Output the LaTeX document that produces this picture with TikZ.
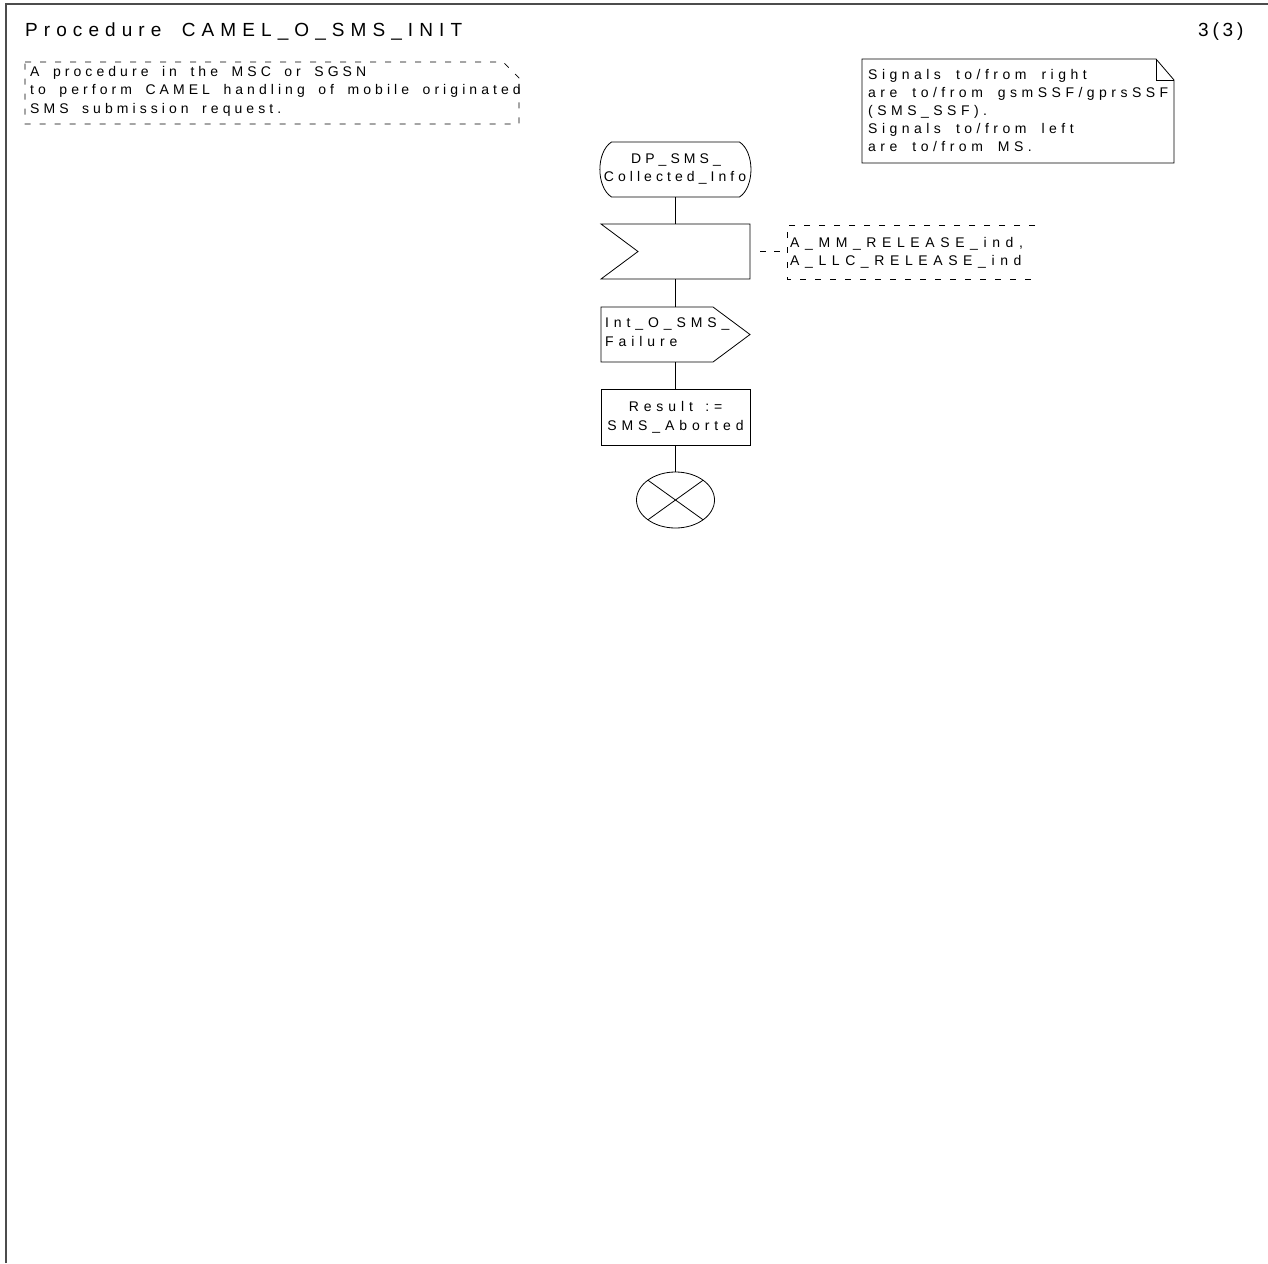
\documentclass[tikz,border=0pt]{standalone}
\usepackage{fontspec}
\setmainfont{Liberation Sans}
\newfontfamily\fA[LetterSpace=29,WordSpace=1.7]{Liberation Sans}
\newfontfamily\fB[LetterSpace=32,WordSpace=1.3]{Liberation Sans}
\newfontfamily\fC[LetterSpace=35,WordSpace=1.4]{Liberation Sans}
\newfontfamily\fD[LetterSpace=40,WordSpace=1.4]{Liberation Sans}
\newfontfamily\fT[LetterSpace=32,WordSpace=1.8]{Liberation Sans}
\newfontfamily\fP[LetterSpace=20]{Liberation Sans}
\usetikzlibrary{shapes.geometric,calc}
\begin{document}
\begin{tikzpicture}[x=1pt,y=-1pt,
  flow/.style={line width=0.8pt},
  shp/.style={draw=none, minimum width=149pt, minimum height=55pt, inner sep=0pt},
  lbl/.style={inner sep=0pt},
  sA/.style={lbl, font=\fA\fontsize{14}{18}\selectfont},
  sB/.style={lbl, font=\fB\fontsize{14}{18}\selectfont},
  sC/.style={lbl, font=\fC\fontsize{14}{18}\selectfont},
  sD/.style={lbl, font=\fD\fontsize{14}{18}\selectfont},
  sT/.style={lbl, font=\fT\fontsize{19}{23}\selectfont},
  sP/.style={lbl, font=\fP\fontsize{19}{23}\selectfont},
  cmtline/.style={dash pattern=on 6pt off 9pt, line width=0.7pt}]
\useasboundingbox (0,0) rectangle (1268,1263);
\fill[white] (0,0) rectangle (1268,1263);
\draw[gray!60!black, line width=1.6pt] (6,1263) -- (6,4) -- (1268,4);

% header
\node[sT, anchor=base west] (title) at (25,37) {Procedure CAMEL\_O\_SMS\_INIT};
\node[sP, anchor=base west] (page) at (1198,37) {3(3)};

% top-left comment
\draw[cmtline] (25,62) -- (503,62) -- (519,78) -- (519,124) -- (25,124) -- cycle;
\node[sA, anchor=base west] (c1a) at (30,76) {A procedure in the MSC or SGSN};
\node[sA, anchor=base west] (c1b) at (30,94.5) {to perform CAMEL handling of mobile originated};
\node[sA, anchor=base west] (c1c) at (30,113) {SMS submission request.};

% note top-right
\draw[flow] (862,59) -- (1156,59) -- (1174,80) -- (1174,163) -- (862,163) -- cycle;
\draw[flow] (1156,59) -- (1156,80) -- (1174,80);
\node[sB, anchor=base west] (n1) at (868,79.3) {Signals to/from right};
\node[sB, anchor=base west] (n2) at (868,97.4) {are to/from gsmSSF/gprsSSF};
\node[sB, anchor=base west] (n3) at (868,115.5) {(SMS\_SSF).};
\node[sB, anchor=base west] (n4) at (868,133.6) {Signals to/from left};
\node[sB, anchor=base west] (n5) at (868,151.7) {are to/from MS.};

% start state
\node[shp, minimum width=151pt] (start) at (675.5,169.5) {};
\draw[flow] (611.5,142) -- (739.5,142) .. controls (754.8,152) and (754.8,187) .. (739.5,197)
  -- (611.5,197) .. controls (596,187) and (596,152) .. (611.5,142) -- cycle;
\node[sA, anchor=base] (s1) at (676,163.3) {DP\_SMS\_};
\node[sA, anchor=base] (s2) at (675,181.7) {Collected\_Info};

% input
\node[shp] (inp) at (675.5,251.5) {};
\draw[flow] (601,224) -- (750,224) -- (750,279) -- (601,279) -- (638,251.5) -- cycle;

% comment on input
\coordinate (c4) at (787,251.5);
\draw[line width=0.7pt, dash pattern=on 0pt off 10pt on 6pt off 8pt on 6pt off 20pt] (inp.east) -- (c4);
\draw[cmtline] (1035,225) -- (787,225) -- (787,279) -- (1035,279);
\node[sD, anchor=base west] (m1) at (790,247) {A\_MM\_RELEASE\_ind,};
\node[sD, anchor=base west] (m2) at (790,265) {A\_LLC\_RELEASE\_ind};

% output
\node[shp] (out) at (675.5,334.5) {};
\draw[flow] (601,307) -- (713,307) -- (750,334.5) -- (713,362) -- (601,362) -- cycle;
\node[sC, anchor=base west] (o1) at (605,327.3) {Int\_O\_SMS\_};
\node[sC, anchor=base west] (o2) at (605,346.7) {Failure};

% task
\node[shp, draw, flow, minimum height=56pt] (task) at (675.5,417.5) {};
\node[sC, anchor=base] (k1) at (675.5,411.7) {Result :=};
\node[sC, anchor=base] (k2) at (675.5,430) {SMS\_Aborted};

% stop
\node[draw, flow, ellipse, minimum width=78pt, minimum height=56pt, inner sep=0pt] (stop) at (675.5,500) {};
\draw[flow] ([shift={(-27.6,-19.8)}]stop.center) -- ([shift={(27.6,19.8)}]stop.center);
\draw[flow] ([shift={(-27.6,19.8)}]stop.center) -- ([shift={(27.6,-19.8)}]stop.center);

% connectors
\draw[flow] (start.south) -- (inp.north);
\draw[flow] (inp.south) -- (out.north);
\draw[flow] (out.south) -- (task.north);
\draw[flow] (task.south) -- (stop.north);
\end{tikzpicture}
\end{document}
